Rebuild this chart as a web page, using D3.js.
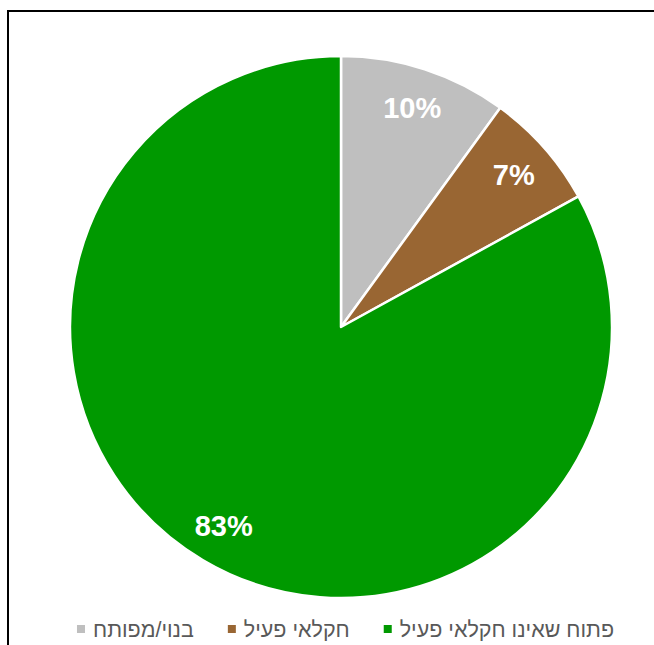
<!DOCTYPE html>
<html>
<head>
<meta charset="utf-8">
<script src="https://cdn.jsdelivr.net/npm/d3@7"></script>
<style>
  html, body { margin: 0; padding: 0; background: #fff; }
  svg { display: block; }
</style>
</head>
<body>
<svg id="chart" width="654" height="645"></svg>
<script>
// Land-use shares (percent)
const categories = ["בנוי/מפותח", "חקלאי פעיל", "פתוח שאינו חקלאי פעיל"];
const values = [10, 7, 83];
const colors = ["#BFBFBF", "#996633", "#009900"];
const labels = ["10%", "7%", "83%"];

const svg = d3.select("#chart");

// chart frame
svg.append("rect")
  .attr("x", 8).attr("y", 11)
  .attr("width", 660).attr("height", 660)
  .attr("fill", "#fff")
  .attr("stroke", "#000")
  .attr("stroke-width", 2);

const cx = 341, cy = 327, R = 271;

const pie = d3.pie().sort(null).value(d => d.v);
const arcs = pie(values.map((v, i) => ({ v, i })));
const arc = d3.arc().innerRadius(0).outerRadius(R);
const labelArc = d3.arc().innerRadius(R * 0.85).outerRadius(R * 0.85);

const g = svg.append("g").attr("transform", `translate(${cx},${cy})`);

g.selectAll("path.slice")
  .data(arcs)
  .join("path")
  .attr("class", "slice")
  .attr("d", arc)
  .attr("fill", d => colors[d.data.i])
  .attr("stroke", "#fff")
  .attr("stroke-width", 2.5)
  .attr("stroke-linejoin", "round");

g.selectAll("text.val")
  .data(arcs)
  .join("text")
  .attr("class", "val")
  .attr("transform", d => {
    const [x, y] = labelArc.centroid(d);
    return `translate(${x},${y})`;
  })
  .attr("text-anchor", "middle")
  .attr("dy", "0.36em")
  .attr("font-family", "Arial, 'Liberation Sans', sans-serif")
  .attr("font-weight", "bold")
  .attr("font-size", 29)
  .attr("fill", "#fff")
  .text(d => labels[d.data.i]);

// legend, items placed from the right edge leftwards
const legend = svg.append("g")
  .attr("font-family", "'Liberation Sans', Arial, sans-serif")
  .attr("font-size", 21.5)
  .attr("fill", "#595959");

const legendY = 629;
let xRight = 614;
const order = [2, 1, 0];
order.forEach(i => {
  const t = legend.append("text")
    .attr("x", xRight)
    .attr("y", legendY)
    .attr("dy", "0.35em")
    .attr("text-anchor", "end")
    .text(categories[i]);
  const w = t.node().getComputedTextLength();
  const sx = xRight - w - 16;
  legend.append("rect")
    .attr("x", sx).attr("y", legendY - 4)
    .attr("width", 8).attr("height", 8)
    .attr("fill", colors[i]);
  xRight = sx - 34;
});
</script>
</body>
</html>
